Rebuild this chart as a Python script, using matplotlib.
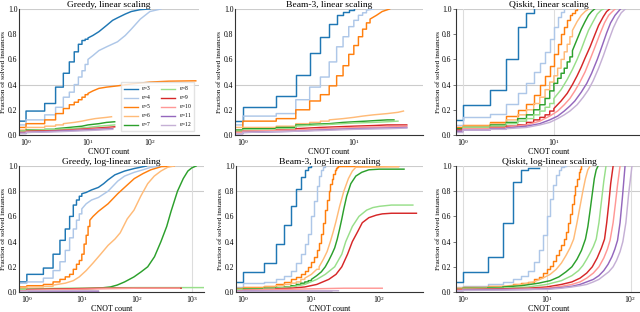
"""
Cumulative fraction of solved instances vs CNOT count, for three
synthesis methods under linear and log-linear scaling.
"""

import matplotlib
matplotlib.use('Agg')
import matplotlib.pyplot as plt

plt.rcParams['font.family'] = ['Liberation Serif', 'DejaVu Serif']
plt.rcParams['mathtext.fontset'] = 'stix'

# ─── Data: n -> (CNOT counts, fraction solved) ───
N_VALUES = [3, 4, 5, 6, 7, 8, 9, 10, 11, 12]
COLORS = ["#1f77b4", "#aec7e8", "#ff7f0e", "#ffbb78", "#2ca02c",
          "#98df8a", "#d62728", "#ff9896", "#9467bd", "#c5b0d5"]

greedy_lin = {
    3: ([0.5, 1, 2, 3, 4, 5, 6, 7, 8, 9, 10, 12, 15, 20, 25, 30, 40, 50, 70, 100],
        [0.11, 0.19, 0.25, 0.38, 0.49, 0.58, 0.66, 0.72, 0.75, 0.76, 0.77, 0.79, 0.82, 0.87, 0.91, 0.93, 0.96, 0.98, 0.995, 1.0]),
    4: ([0.5, 1, 2, 3, 4, 5, 6, 7, 8, 9, 10, 12, 15, 20, 30, 40, 50, 70, 100, 150],
        [0.08, 0.12, 0.16, 0.22, 0.3, 0.34, 0.4, 0.46, 0.51, 0.56, 0.6, 0.63, 0.67, 0.7, 0.74, 0.79, 0.84, 0.92, 0.98, 1.0]),
    5: ([0.5, 1, 2, 3, 4, 5, 6, 7, 8, 9, 10, 12, 15, 20, 30, 50, 100, 200, 550],
        [0.06, 0.09, 0.12, 0.17, 0.21, 0.24, 0.26, 0.28, 0.3, 0.32, 0.33, 0.35, 0.37, 0.38, 0.39, 0.405, 0.42, 0.427, 0.43]),
    6: ([0.5, 1, 2, 3, 4, 6, 8, 10, 13, 16, 20, 24],
        [0.04, 0.06, 0.07, 0.08, 0.09, 0.1, 0.11, 0.12, 0.13, 0.135, 0.14, 0.145]),
    7: ([0.5, 1, 2, 3, 5, 8, 10, 15, 20, 27],
        [0.03, 0.04, 0.045, 0.05, 0.06, 0.07, 0.08, 0.09, 0.1, 0.105]),
    8: ([0.5, 1, 3, 5, 10, 15, 27],
        [0.03, 0.035, 0.045, 0.05, 0.06, 0.07, 0.08]),
    9: ([0.5, 1, 3, 5, 10, 20, 27],
        [0.02, 0.03, 0.035, 0.04, 0.05, 0.06, 0.065]),
    10: ([0.5, 1, 3, 10, 25],
         [0.02, 0.025, 0.03, 0.045, 0.055]),
    11: ([0.5, 1, 3, 10, 25],
         [0.015, 0.02, 0.03, 0.04, 0.05]),
    12: ([0.5, 1, 3, 10, 25],
         [0.01, 0.02, 0.025, 0.035, 0.045]),
}

beam_lin = {
    3: ([0.5, 1, 2, 3, 4, 5, 6, 7, 8, 9, 10],
        [0.11, 0.225, 0.31, 0.48, 0.65, 0.775, 0.88, 0.95, 0.98, 0.995, 1.0]),
    4: ([0.5, 1, 2, 3, 4, 5, 6, 7, 8, 9, 10, 11, 12, 13, 15],
        [0.08, 0.15, 0.17, 0.28, 0.38, 0.46, 0.58, 0.7, 0.78, 0.86, 0.91, 0.95, 0.97, 0.99, 1.0]),
    5: ([0.5, 1, 2, 3, 4, 5, 6, 7, 8, 9, 10, 11, 12, 13, 14, 16, 18, 21],
        [0.03, 0.11, 0.13, 0.2, 0.27, 0.32, 0.39, 0.47, 0.55, 0.64, 0.71, 0.78, 0.84, 0.89, 0.92, 0.95, 0.98, 1.0]),
    6: ([0.5, 1, 2, 3, 4, 5, 6, 8, 10, 12, 15, 20, 25, 28],
        [0.06, 0.06, 0.07, 0.09, 0.1, 0.11, 0.12, 0.13, 0.14, 0.15, 0.16, 0.17, 0.18, 0.19]),
    7: ([0.5, 1, 2, 3, 4, 6, 8, 10, 13, 16, 20, 23],
        [0.04, 0.05, 0.06, 0.08, 0.085, 0.09, 0.1, 0.105, 0.11, 0.115, 0.12, 0.12]),
    8: ([0.5, 1, 2, 3, 5, 8, 10, 15, 20, 25],
        [0.03, 0.04, 0.05, 0.07, 0.08, 0.09, 0.095, 0.1, 0.105, 0.11]),
    9: ([0.5, 1, 2, 3, 5, 10, 15, 20, 30],
        [0.02, 0.03, 0.04, 0.05, 0.06, 0.07, 0.075, 0.08, 0.08]),
    10: ([0.5, 1, 3, 5, 10, 20, 30],
         [0.02, 0.03, 0.04, 0.05, 0.06, 0.065, 0.07]),
    11: ([0.5, 1, 3, 5, 10, 20, 30],
         [0.01, 0.02, 0.03, 0.04, 0.05, 0.055, 0.06]),
    12: ([0.5, 1, 3, 5, 10, 20, 30],
         [0.01, 0.02, 0.03, 0.035, 0.045, 0.05, 0.055]),
}

qiskit_lin = {
    3: ([0.5, 1, 2, 3, 4, 5, 6],
        [0.12, 0.24, 0.36, 0.6, 0.86, 0.97, 1.0]),
    4: ([0.5, 1, 2, 3, 4, 5, 6, 7, 8, 9, 10, 11, 12, 13],
        [0.08, 0.14, 0.17, 0.25, 0.33, 0.41, 0.5, 0.57, 0.66, 0.76, 0.86, 0.94, 0.98, 1.0]),
    5: ([0.5, 1, 2, 3, 4, 5, 6, 7, 8, 9, 10, 11, 12, 13, 14, 15, 16, 17, 18],
        [0.06, 0.08, 0.1, 0.15, 0.2, 0.25, 0.32, 0.4, 0.47, 0.55, 0.64, 0.72, 0.8, 0.86, 0.91, 0.95, 0.97, 0.99, 1.0]),
    6: ([0.5, 1, 2, 3, 4, 5, 6, 7, 8, 9, 10, 11, 12, 13, 14, 15, 16, 18, 20, 22, 24],
        [0.05, 0.07, 0.09, 0.12, 0.16, 0.2, 0.25, 0.3, 0.36, 0.42, 0.47, 0.53, 0.6, 0.66, 0.72, 0.78, 0.83, 0.9, 0.95, 0.98, 1.0]),
    7: ([0.5, 1, 2, 3, 4, 5, 6, 7, 8, 9, 10, 11, 12, 13, 14, 15, 16, 18, 20, 22, 24, 26, 28],
        [0.05, 0.06, 0.08, 0.1, 0.13, 0.16, 0.2, 0.24, 0.29, 0.35, 0.41, 0.45, 0.49, 0.53, 0.58, 0.62, 0.67, 0.76, 0.84, 0.9, 0.95, 0.98, 1.0]),
    8: ([0.5, 1, 2, 3, 4, 5, 6, 7, 8, 9, 10, 12, 14, 16, 18, 20, 22, 24, 27, 30, 33, 35],
        [0.04, 0.06, 0.07, 0.09, 0.11, 0.13, 0.16, 0.19, 0.22, 0.25, 0.29, 0.36, 0.44, 0.52, 0.6, 0.68, 0.76, 0.83, 0.9, 0.96, 0.99, 1.0]),
    9: ([0.5, 1, 2, 3, 4, 5, 6, 7, 8, 9, 10, 12, 14, 16, 18, 20, 22, 25, 28, 31, 35, 38, 41],
        [0.04, 0.05, 0.06, 0.07, 0.08, 0.1, 0.12, 0.14, 0.16, 0.19, 0.21, 0.27, 0.33, 0.4, 0.47, 0.54, 0.61, 0.7, 0.79, 0.87, 0.94, 0.98, 1.0]),
    10: ([0.5, 1, 2, 3, 5, 7, 9, 11, 13, 15, 17, 19, 22, 25, 28, 32, 36, 40, 44, 47],
         [0.03, 0.05, 0.055, 0.06, 0.08, 0.11, 0.15, 0.19, 0.24, 0.29, 0.35, 0.41, 0.5, 0.6, 0.69, 0.8, 0.89, 0.95, 0.98, 1.0]),
    11: ([0.5, 1, 2, 3, 5, 7, 9, 11, 13, 15, 17, 20, 23, 26, 30, 34, 38, 42, 47, 51, 54],
         [0.03, 0.04, 0.05, 0.055, 0.07, 0.09, 0.12, 0.15, 0.19, 0.23, 0.27, 0.34, 0.41, 0.49, 0.6, 0.71, 0.81, 0.89, 0.95, 0.98, 1.0]),
    12: ([0.5, 1, 2, 3, 5, 7, 9, 11, 13, 15, 18, 21, 24, 27, 31, 35, 40, 45, 50, 55, 61],
         [0.02, 0.04, 0.045, 0.05, 0.06, 0.08, 0.1, 0.13, 0.16, 0.19, 0.24, 0.3, 0.36, 0.43, 0.53, 0.63, 0.75, 0.85, 0.92, 0.97, 1.0]),
}

greedy_log = {
    3: ([0.5, 1, 2, 3, 4, 5, 6, 7, 8, 9, 10, 12, 15, 20, 25, 30, 40, 60, 90, 150],
        [0.08, 0.14, 0.19, 0.3, 0.41, 0.5, 0.6, 0.69, 0.73, 0.76, 0.78, 0.79, 0.81, 0.83, 0.86, 0.89, 0.93, 0.96, 0.98, 1.0]),
    4: ([0.5, 1, 2, 3, 4, 5, 6, 7, 8, 9, 10, 12, 15, 20, 30, 45, 60, 90, 130, 180, 280],
        [0.07, 0.08, 0.11, 0.17, 0.24, 0.33, 0.43, 0.5, 0.57, 0.62, 0.66, 0.7, 0.73, 0.75, 0.8, 0.88, 0.92, 0.95, 0.97, 0.99, 1.0]),
    5: ([0.5, 1, 2, 3, 4, 5, 6, 7, 8, 9, 10, 11, 12, 13, 14, 16, 20, 30, 45, 60, 90, 130, 180, 280, 480],
        [0.04, 0.05, 0.06, 0.08, 0.1, 0.12, 0.14, 0.18, 0.22, 0.25, 0.3, 0.38, 0.45, 0.52, 0.57, 0.6, 0.64, 0.7, 0.78, 0.83, 0.9, 0.94, 0.97, 0.995, 1.0]),
    6: ([0.5, 1, 2, 3, 5, 7, 9, 12, 16, 22, 30, 40, 50, 67, 89, 118, 158, 208, 275, 365, 480],
        [0.03, 0.04, 0.045, 0.055, 0.07, 0.09, 0.12, 0.17, 0.23, 0.3, 0.37, 0.42, 0.47, 0.58, 0.65, 0.76, 0.86, 0.92, 0.96, 0.99, 1.0]),
    7: ([0.5, 1, 3, 10, 20, 33, 44, 60, 89, 120, 158, 210, 275, 350, 420, 550, 700, 850, 1000, 1200],
        [0.02, 0.02, 0.02, 0.025, 0.03, 0.04, 0.055, 0.08, 0.12, 0.16, 0.2, 0.28, 0.4, 0.52, 0.64, 0.8, 0.9, 0.96, 0.985, 1.0]),
    8: ([0.5, 1, 5, 20, 100, 2000],
        [0.02, 0.025, 0.03, 0.033, 0.035, 0.035]),
    9: ([0.5, 1, 5, 20, 100, 640],
        [0.01, 0.02, 0.025, 0.03, 0.03, 0.03]),
    10: ([0.5, 1, 5, 20, 100, 600],
         [0.01, 0.015, 0.02, 0.025, 0.03, 0.03]),
    11: ([0.5, 1, 5, 20],
         [0.005, 0.01, 0.01, 0.01]),
    12: ([0.5, 1, 5, 20],
         [0.005, 0.008, 0.01, 0.01]),
}

beam_log = {
    3: ([0.5, 1, 2, 3, 4, 5, 6, 7, 8, 9, 10],
        [0.08, 0.16, 0.23, 0.38, 0.53, 0.68, 0.82, 0.91, 0.97, 0.99, 1.0]),
    4: ([0.5, 1, 2, 3, 4, 5, 6, 7, 8, 9, 10, 11, 12, 13, 14, 15, 16],
        [0.04, 0.07, 0.08, 0.1, 0.13, 0.17, 0.23, 0.3, 0.38, 0.46, 0.6, 0.72, 0.84, 0.92, 0.97, 0.99, 1.0]),
    5: ([0.5, 1, 2, 3, 4, 5, 6, 7, 8, 9, 10, 11, 12, 13, 14, 15, 16, 17, 18, 19, 20, 21, 22, 23, 24, 25, 190],
        [0.03, 0.04, 0.05, 0.06, 0.08, 0.1, 0.12, 0.14, 0.17, 0.2, 0.24, 0.28, 0.33, 0.39, 0.46, 0.55, 0.65, 0.73, 0.8, 0.86, 0.9, 0.94, 0.97, 0.985, 0.995, 1.0, 1.0]),
    6: ([0.5, 1, 2, 3, 4, 5, 6, 7, 8, 10, 12, 13, 15, 17, 19, 21, 23, 26, 30, 35, 40, 45, 190],
        [0.02, 0.03, 0.04, 0.05, 0.06, 0.07, 0.08, 0.1, 0.11, 0.14, 0.18, 0.2, 0.26, 0.32, 0.4, 0.48, 0.56, 0.68, 0.8, 0.9, 0.96, 0.99, 0.995]),
    7: ([0.5, 1, 2, 3, 4, 5, 6, 7, 8, 9, 10, 12, 14, 16, 18, 20, 22, 24, 26, 28, 30, 33, 38, 45, 55, 70, 100, 230],
        [0.02, 0.025, 0.03, 0.035, 0.04, 0.05, 0.06, 0.07, 0.08, 0.09, 0.1, 0.13, 0.16, 0.2, 0.25, 0.3, 0.35, 0.42, 0.5, 0.58, 0.66, 0.76, 0.86, 0.92, 0.95, 0.97, 0.975, 0.975]),
    8: ([0.5, 1, 2, 3, 5, 8, 12, 16, 22, 28, 32, 40, 50, 65, 80, 100, 150, 310],
        [0.02, 0.02, 0.025, 0.03, 0.04, 0.06, 0.1, 0.14, 0.2, 0.3, 0.4, 0.52, 0.6, 0.65, 0.67, 0.68, 0.69, 0.69]),
    9: ([0.5, 1, 2, 3, 5, 8, 12, 18, 23, 28, 34, 40, 48, 56, 70, 90, 110, 150, 350],
        [0.01, 0.015, 0.02, 0.025, 0.03, 0.04, 0.06, 0.1, 0.14, 0.2, 0.3, 0.4, 0.48, 0.55, 0.59, 0.61, 0.62, 0.625, 0.625]),
    10: ([0.5, 1, 3, 10, 30, 110],
         [0.01, 0.015, 0.02, 0.025, 0.03, 0.03]),
    11: ([0.5, 1, 3, 10, 20],
         [0.005, 0.008, 0.01, 0.01, 0.01]),
    12: ([0.5, 1, 3, 10, 25],
         [0.005, 0.007, 0.009, 0.01, 0.01]),
}

qiskit_log = {
    3: ([0.5, 1, 2, 3, 4, 5, 6, 8],
        [0.08, 0.16, 0.28, 0.55, 0.87, 0.97, 0.985, 0.985]),
    4: ([0.5, 1, 2, 3, 4, 5, 6, 7, 8, 9, 10, 11, 12, 13, 14, 15, 16, 17],
        [0.04, 0.05, 0.06, 0.08, 0.1, 0.13, 0.17, 0.24, 0.33, 0.45, 0.6, 0.74, 0.85, 0.93, 0.97, 0.99, 1.0, 1.0]),
    5: ([0.5, 1, 2, 3, 4, 5, 6, 7, 8, 9, 10, 11, 12, 13, 14, 15, 16, 17, 18, 19, 20, 21, 22, 23, 24, 25, 26],
        [0.03, 0.04, 0.045, 0.05, 0.06, 0.07, 0.08, 0.1, 0.12, 0.15, 0.18, 0.21, 0.25, 0.29, 0.33, 0.37, 0.42, 0.48, 0.55, 0.62, 0.7, 0.77, 0.84, 0.9, 0.95, 0.98, 1.0]),
    6: ([0.5, 1, 2, 3, 5, 7, 9, 11, 13, 15, 17, 19, 21, 23, 25, 27, 29, 31, 33],
        [0.03, 0.035, 0.04, 0.045, 0.06, 0.08, 0.11, 0.14, 0.18, 0.23, 0.29, 0.35, 0.42, 0.55, 0.68, 0.8, 0.9, 0.97, 1.0]),
    7: ([0.5, 1, 2, 3, 5, 8, 11, 14, 17, 20, 23, 26, 29, 31, 33, 35, 37, 39, 41],
        [0.02, 0.03, 0.035, 0.04, 0.05, 0.07, 0.09, 0.12, 0.16, 0.2, 0.26, 0.33, 0.42, 0.52, 0.65, 0.78, 0.9, 0.97, 1.0]),
    8: ([0.5, 1, 3, 6, 10, 15, 20, 24, 27, 30, 33, 36, 39, 42, 45, 48, 51],
        [0.02, 0.025, 0.03, 0.04, 0.06, 0.09, 0.13, 0.17, 0.21, 0.26, 0.31, 0.36, 0.42, 0.55, 0.72, 0.88, 1.0]),
    9: ([0.5, 1, 3, 6, 10, 15, 20, 25, 30, 35, 40, 45, 49, 52, 55, 58, 62],
        [0.02, 0.02, 0.025, 0.03, 0.04, 0.06, 0.08, 0.11, 0.15, 0.2, 0.27, 0.35, 0.42, 0.55, 0.7, 0.86, 1.0]),
    10: ([0.5, 1, 3, 6, 10, 15, 20, 25, 30, 36, 42, 48, 53, 57, 62, 66, 70, 75],
         [0.015, 0.02, 0.02, 0.025, 0.03, 0.045, 0.06, 0.08, 0.11, 0.15, 0.2, 0.27, 0.34, 0.41, 0.55, 0.7, 0.85, 1.0]),
    11: ([0.5, 1, 3, 6, 10, 15, 20, 25, 30, 36, 42, 48, 54, 60, 65, 70, 75, 80, 86],
         [0.01, 0.015, 0.02, 0.02, 0.025, 0.035, 0.045, 0.06, 0.08, 0.1, 0.13, 0.17, 0.22, 0.28, 0.34, 0.41, 0.55, 0.75, 1.0]),
    12: ([0.5, 1, 3, 6, 10, 15, 20, 25, 30, 36, 42, 48, 55, 62, 68, 75, 81, 88, 95, 104],
         [0.01, 0.012, 0.015, 0.02, 0.02, 0.03, 0.04, 0.05, 0.06, 0.08, 0.1, 0.13, 0.16, 0.2, 0.25, 0.32, 0.4, 0.55, 0.78, 1.0]),
}

TITLES = ["Greedy, linear scaling", "Beam-3, linear scaling", "Qiskit, linear scaling",
          "Greedy, log-linear scaling", "Beam-3, log-linear scaling", "Qiskit, log-linear scaling"]
XLIMS = [(0.77, 620), (0.85, 42), (0.84, 93),
         (0.72, 1670), (0.78, 437), (0.83, 137)]
# axes boxes in pixels: left, top, right, bottom
BOXES = [(19, 9, 199, 135), (235, 9, 423, 135), (456, 9, 642, 135),
         (19, 166, 204, 292), (236, 166, 423, 292), (456, 166, 642, 292)]
GRID_Y = [[0.4, 1.0]] * 3 + [[0.8, 1.0]] * 3
GRID_X = [[], [], [1, 10], [1000], [], [1, 10, 100]]

W, H = 640, 312


def draw_cdf(ax, xs, ys, color):
    """Step where counts are consecutive integers, straight line elsewhere."""
    px, py = [xs[0]], [ys[0]]
    for i in range(1, len(xs)):
        if xs[i] - xs[i - 1] <= 1:
            px.append(xs[i])
            py.append(ys[i - 1])
        px.append(xs[i])
        py.append(ys[i])
    ax.plot(px, py, color=color, linewidth=1.05)


fig = plt.figure(figsize=(W / 100, H / 100), dpi=100)
panels = [greedy_lin, beam_lin, qiskit_lin, greedy_log, beam_log, qiskit_log]

for k, data in enumerate(panels):
    l, t, r, b = BOXES[k]
    ax = fig.add_axes([l / W, 1 - b / H, (r - l) / W, (b - t) / H])
    for gy in GRID_Y[k]:
        ax.axhline(gy, color="#cccccc", linewidth=0.8, zorder=0)
    for gx in GRID_X[k]:
        ax.axvline(gx, color="#dddddd", linewidth=0.8, zorder=0)
    for n, color in zip(N_VALUES, COLORS):
        xs, ys = data[n]
        draw_cdf(ax, xs, ys, color)
    ax.set_xscale("log")
    ax.set_xlim(*XLIMS[k])
    ax.set_ylim(0, 1.0)
    ax.set_yticks([0.0, 0.2, 0.4, 0.6, 0.8, 1.0])
    ax.set_yticklabels(["0.0", "0.2", "0.4", "0.6", "0.8", "1.0"])
    ax.tick_params(axis="both", which="major", labelsize=5.5, length=0, pad=1.2)
    ax.tick_params(axis="x", which="minor", length=0)
    if k in (2, 5):
        ax.tick_params(axis="y", length=2, width=0.5, color="#444444")
    ax.set_title(TITLES[k], fontsize=6.8, pad=1.2)
    ax.set_xlabel("CNOT count", fontsize=5.8, labelpad=0.3)
    ax.set_ylabel("Fraction of solved instances", fontsize=5.2, labelpad=1)
    for side in ("top", "right"):
        ax.spines[side].set_visible(False)
    for side in ("left", "bottom"):
        ax.spines[side].set_color("#333333")
        ax.spines[side].set_linewidth(0.8)

    if k == 0:
        handles = [plt.Line2D([], [], color=c, linewidth=1.0) for c in COLORS]
        labels = [f"$n$={n}" for n in N_VALUES]
        ax.legend(handles, labels, loc="lower right", ncol=2, fontsize=4.0,
                  frameon=True, edgecolor="#dddddd", fancybox=False,
                  handlelength=2.6, columnspacing=1.6, labelspacing=0.18,
                  borderpad=0.45, handletextpad=0.6,
                  bbox_to_anchor=(0.99, 0.01))

fig.savefig("out.png", dpi=100)
